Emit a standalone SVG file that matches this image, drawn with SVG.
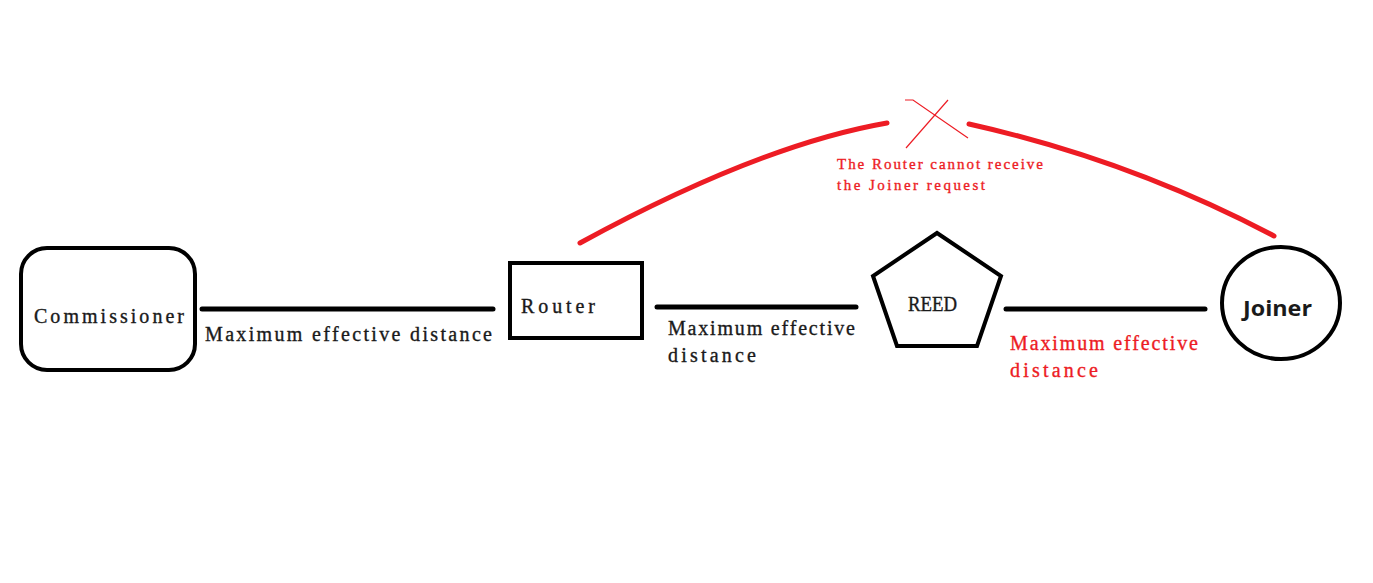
<svg xmlns="http://www.w3.org/2000/svg" width="1373" height="583" viewBox="0 0 1373 583">
<style>
.shape{fill:none;stroke:#000;stroke-width:4}
.link{fill:none;stroke:#000;stroke-width:5;stroke-linecap:round}
.red{fill:none;stroke:#ed1c24;stroke-width:5;stroke-linecap:round}
.thin{fill:none;stroke:#ed1c24;stroke-width:1.2}
.lbl{font-family:"Liberation Serif",serif;font-size:20px;fill:#1a1a1a;stroke:#1a1a1a;stroke-width:0.35}
.rlbl{font-family:"Liberation Serif",serif;font-size:20px;fill:#ed1c24;stroke:#ed1c24;stroke-width:0.35}
.note{font-family:"Liberation Serif",serif;font-size:15px;fill:#ed1c24;stroke:#ed1c24;stroke-width:0.35}
</style>
<rect width="1373" height="583" fill="#fff"/>
<g id="connectors">
<line class="link" x1="202" y1="309" x2="493" y2="309"/>
<line class="link" x1="657" y1="307" x2="856" y2="307"/>
<line class="link" x1="1006" y1="309" x2="1205" y2="309"/>
<path class="red" d="M580,243 Q760,145 887,123"/>
<path class="red" d="M969,124 Q1130,160 1274,236"/>
<path class="thin" d="M905,100 L913,100 L968,138"/>
<path class="thin" d="M948,100 L906,148"/>
</g>
<g id="commissioner">
<rect class="shape" x="21" y="248" width="174" height="122" rx="26" ry="26"/>
<text class="lbl" x="34" y="323" font-size="22" textLength="150" lengthAdjust="spacing">Commissioner</text>
</g>
<g id="router">
<rect class="shape" x="510" y="263" width="132" height="75"/>
<text class="lbl" x="521" y="313" font-size="22" textLength="74" lengthAdjust="spacing">Router</text>
</g>
<g id="reed">
<polygon class="shape" points="937,233 1001,276 977,346 897,346 873,276"/>
<text class="lbl" x="908" y="311" font-size="21" textLength="49" lengthAdjust="spacingAndGlyphs">REED</text>
</g>
<g id="joiner">
<ellipse class="shape" cx="1281" cy="303" rx="59" ry="56"/>
<text x="1243" y="316" font-family="'Open Sans',sans-serif" font-weight="bold" font-size="21" fill="#1a1a1a" textLength="69" lengthAdjust="spacingAndGlyphs">Joiner</text>
</g>
<g id="labels">
<text class="lbl" x="205" y="341" textLength="287" lengthAdjust="spacing">Maximum effective distance</text>
<text class="lbl" x="668" y="335" textLength="187" lengthAdjust="spacing">Maximum effective</text>
<text class="lbl" x="668" y="362" textLength="88" lengthAdjust="spacing">distance</text>
<text class="rlbl" x="1010" y="350" textLength="188" lengthAdjust="spacing">Maximum effective</text>
<text class="rlbl" x="1010" y="377" textLength="88" lengthAdjust="spacing">distance</text>
<text class="note" x="837" y="169" textLength="206" lengthAdjust="spacing">The Router cannot receive</text>
<text class="note" x="837" y="190" textLength="148" lengthAdjust="spacing">the Joiner request</text>
</g>
</svg>
